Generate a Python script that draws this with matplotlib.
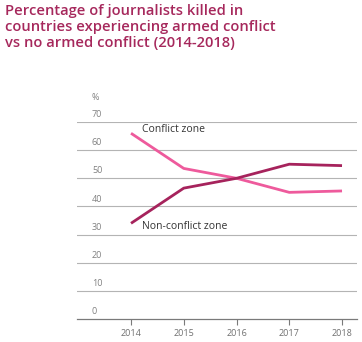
import matplotlib.pyplot as plt
from matplotlib.transforms import blended_transform_factory

# data
years = [2014, 2015, 2016, 2017, 2018]
conflict = [66.0, 53.5, 50.0, 45.0, 45.5]
non_conflict = [34.0, 46.5, 50.0, 55.0, 54.5]
y_ticks = [0, 10, 20, 30, 40, 50, 60, 70]

PINK = "#ee5a9c"
DARK = "#a6235c"
GRID = "#b4b4b4"
W, H = 362, 342

plt.rcParams["font.family"] = ["Open Sans", "DejaVu Sans"]
fig = plt.figure(figsize=(W / 100, H / 100), dpi=100)

# axes box in pixels: left 77, right 357, top 122 (70 line), bottom 319 (0 line)
ax = fig.add_axes([77 / W, 1 - 319 / H, (357 - 77) / W, (319 - 122) / H])
ax.set_xlim(2012.976, 2018.284)
ax.set_ylim(0, 70)

ax.plot(years, conflict, color=PINK, lw=2, solid_capstyle="butt", zorder=3)
ax.plot(years, non_conflict, color=DARK, lw=2, solid_capstyle="butt", zorder=3)

for v in y_ticks[1:]:
    ax.axhline(v, color=GRID, lw=0.8, zorder=1)
for s in ["top", "right", "left"]:
    ax.spines[s].set_visible(False)
ax.spines["bottom"].set_color("#7a7a7a")
ax.spines["bottom"].set_linewidth(0.9)

ax.set_yticks([])
ax.set_xticks(years)
ax.set_xticklabels([str(y) for y in years], fontsize=6.5, color="#707070")
ax.tick_params(axis="x", length=4, width=0.8, color="#7a7a7a", pad=3)

# y labels sit above their gridlines
tr = blended_transform_factory(fig.transFigure, ax.transData)
for v in y_ticks:
    ax.text(92 / W, v + 1.0, str(v), transform=tr, fontsize=6.5,
            color="#808080", ha="left", va="bottom")
fig.text(92 / W, 1 - 97 / H, "%", fontsize=6.5, color="#808080",
         ha="left", va="center")

ax.text(2014.2, 67.2, "Conflict zone", fontsize=7.5, color="#333333",
        ha="left", va="center")
ax.text(2014.2, 32.9, "Non-conflict zone", fontsize=7.5, color="#333333",
        ha="left", va="center")

fig.text(5 / W, 1 - 4 / H,
         "Percentage of journalists killed in\ncountries experiencing armed conflict\nvs no armed conflict (2014-2018)",
         fontsize=10.6, fontweight="semibold", color="#a6285c",
         ha="left", va="top", linespacing=1.2)

fig.savefig("out.png", dpi=100)
